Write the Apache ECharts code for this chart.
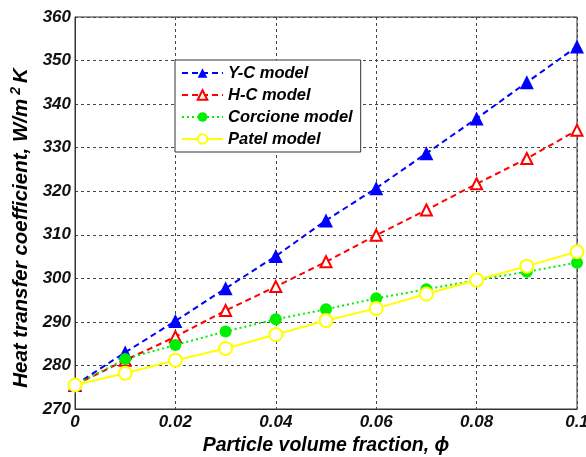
<!DOCTYPE html>
<html>
<head>
<meta charset="utf-8">
<script src="https://cdn.jsdelivr.net/npm/echarts@6/dist/echarts.min.js"></script>
<style>
  html, body { margin: 0; padding: 0; background: #fff; }
  #main { width: 586px; height: 457px; }
</style>
</head>
<body>
<div id="main"></div>
<script>
// particle volume fraction
var phi = [0, 0.01, 0.02, 0.03, 0.04, 0.05, 0.06, 0.07, 0.08, 0.09, 0.1];
// heat transfer coefficient, W/m2K
var ycModel = [275.5, 283.0, 290.2, 297.7, 305.1, 313.3, 320.7, 328.7, 336.7, 345.0, 353.2];
var hcModel = [275.5, 281.2, 286.6, 292.6, 298.1, 303.8, 309.9, 315.7, 321.7, 327.5, 334.0];
var corcioneModel = [275.5, 281.5, 284.7, 287.8, 290.6, 292.9, 295.4, 297.5, 299.6, 301.5, 303.6];
var patelModel = [275.5, 278.2, 281.2, 283.9, 287.1, 290.3, 293.1, 296.4, 299.6, 302.8, 306.1];
var yTicks = [270, 280, 290, 300, 310, 320, 330, 340, 350, 360];

function pairs(ys) {
    return phi.map(function (x, i) { return [x, ys[i]]; });
}

var fontFam = '"Liberation Sans", Arial, sans-serif';
var chart = echarts.init(document.getElementById('main'));
chart.setOption({
    animation: false,
    backgroundColor: '#fff',
    grid: {
        left: 75,
        top: 17,
        right: 9,
        bottom: 48,
        outerBoundsMode: 'none',
        containLabel: false,
        show: true,
        borderColor: '#333',
        borderWidth: 1,
        backgroundColor: 'transparent'
    },
    legend: {
        left: 175,
        top: 60,
        orient: 'vertical',
        backgroundColor: '#fff',
        borderColor: '#333',
        borderWidth: 1,
        borderRadius: 0,
        padding: [4, 8, 4, 6],
        itemWidth: 41,
        itemHeight: 12,
        itemGap: 4,
        data: ['Y-C model', 'H-C model', 'Corcione model', 'Patel model'],
        textStyle: {
            fontFamily: fontFam,
            fontStyle: 'italic',
            fontWeight: 'bold',
            fontSize: 16.5,
            lineHeight: 18,
            color: '#000'
        }
    },
    xAxis: {
        type: 'value',
        min: 0,
        max: 0.1,
        interval: 0.02,
        name: 'Particle volume fraction, ϕ',
        nameLocation: 'middle',
        nameGap: 21,
        nameTextStyle: {
            fontFamily: fontFam,
            fontStyle: 'italic',
            fontWeight: 'bold',
            fontSize: 19.5,
            color: '#000'
        },
        axisLine: { show: true, onZero: false, lineStyle: { color: '#333', width: 1 } },
        axisTick: { show: false },
        axisLabel: {
            margin: 5,
            fontFamily: fontFam,
            fontStyle: 'italic',
            fontWeight: 'bold',
            fontSize: 17,
            color: '#111',
            showMaxLabel: true,
            formatter: function (v) { return String(+v.toFixed(2)); }
        },
        splitLine: { show: true, lineStyle: { color: '#444', type: [3, 3], width: 1 } }
    },
    yAxis: {
        type: 'value',
        min: yTicks[0],
        max: yTicks[yTicks.length - 1],
        interval: 10,
        name: 'Heat transfer coefficient, W/m{sup|2}K',
        nameLocation: 'middle',
        nameGap: 39,
        nameTextStyle: {
            fontFamily: fontFam,
            fontStyle: 'italic',
            fontWeight: 'bold',
            fontSize: 20.5,
            color: '#000',
            padding: [0, 30, 0, 0],
            rich: {
                sup: {
                    fontFamily: fontFam,
                    fontWeight: 'bold',
                    fontSize: 14,
                    padding: [0, 4, 11, 4],
                    color: '#000'
                }
            }
        },
        axisLine: { show: true, lineStyle: { color: '#333', width: 1 } },
        axisTick: { show: false },
        axisLabel: {
            margin: 4,
            fontFamily: fontFam,
            fontStyle: 'italic',
            fontWeight: 'bold',
            fontSize: 17,
            color: '#111'
        },
        splitLine: { show: true, lineStyle: { color: '#444', type: [3, 3], width: 1 } }
    },
    series: [
        {
            name: 'Y-C model',
            type: 'line',
            data: pairs(ycModel),
            symbol: 'triangle',
            symbolSize: 14,
            itemStyle: { color: '#0000ff' },
            lineStyle: { color: '#0000ff', width: 2, type: [6, 4] }
        },
        {
            name: 'H-C model',
            type: 'line',
            data: pairs(hcModel),
            symbol: 'emptyTriangle',
            symbolSize: 11,
            itemStyle: { color: '#ff0000', borderWidth: 1.5 },
            lineStyle: { color: '#ff0000', width: 2, type: [6, 4] }
        },
        {
            name: 'Corcione model',
            type: 'line',
            data: pairs(corcioneModel),
            symbol: 'circle',
            symbolSize: 12,
            itemStyle: { color: '#00ee00' },
            lineStyle: { color: '#00ee00', width: 2, type: [2, 3] }
        },
        {
            name: 'Patel model',
            type: 'line',
            data: pairs(patelModel),
            symbol: 'emptyCircle',
            symbolSize: 13,
            itemStyle: { color: '#ffff00', borderWidth: 2 },
            lineStyle: { color: '#ffff00', width: 2, type: 'solid' }
        }
    ]
});
</script>
</body>
</html>
